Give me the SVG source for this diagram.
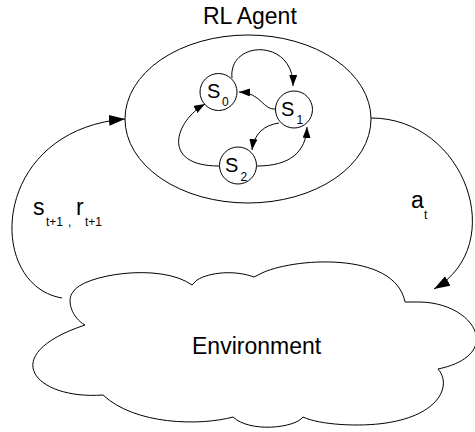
<svg xmlns="http://www.w3.org/2000/svg" width="475" height="432" viewBox="0 0 475 432">
  <style>
    .line { fill: none; stroke: #000; stroke-width: 1; }
    .shape { fill: #fff; stroke: #000; stroke-width: 1; }
    .lbl { font-family: "Liberation Sans", Arial, sans-serif; fill: #000; }
    .big { font-size: 23px; }
    .st { font-size: 20px; }
    .sub { font-size: 12px; }
    .sub2 { font-size: 12px; }
  </style>
  <defs>
    <marker id="tipSmall" viewBox="0 0 11 8" markerWidth="11" markerHeight="8" refX="11" refY="4" orient="auto" markerUnits="userSpaceOnUse">
      <path d="M0,0 L11,4 L0,8 z" fill="#000"/>
    </marker>
    <marker id="tipLarge" viewBox="0 0 16 11" markerWidth="16" markerHeight="11" refX="16" refY="5.5" orient="auto" markerUnits="userSpaceOnUse">
      <path d="M0,0 L16,5.5 L0,11 z" fill="#000"/>
    </marker>
  </defs>

  <rect width="475" height="432" fill="#fff"/>

  <!-- agent -->
  <g id="agent">
    <ellipse class="shape" cx="248" cy="119" rx="123" ry="84"/>
    <text class="lbl big" x="203" y="24">RL Agent</text>
  </g>

  <!-- environment cloud -->
  <g id="environment">
    <path class="shape" d="M73,292 C82,275 160,262 192,285 L197,280 C210,272 235,270 254,277 L260,274 C290,258 395,250 405,302 L420,302 C475,303 505,355 438,369 C452,385 440,415 386,423 C360,427 320,425 303,417 C295,428 250,433 233,417 C200,426 135,425 103,395 C35,400 -5,355 85,325 C72,318 66,300 73,292 Z"/>
    <text class="lbl big" x="192" y="354">Environment</text>
  </g>

  <!-- states -->
  <g id="s0">
    <circle class="shape" cx="218.5" cy="92" r="18.5"/>
    <text class="lbl st" x="207" y="98">S</text>
    <text class="lbl sub" x="222" y="106">0</text>
  </g>
  <g id="s1">
    <circle class="shape" cx="294" cy="109.5" r="18.5"/>
    <text class="lbl st" x="281" y="115.5">S</text>
    <text class="lbl sub" x="296.5" y="123.5">1</text>
  </g>
  <g id="s2">
    <circle class="shape" cx="238" cy="165.5" r="18.5"/>
    <text class="lbl st" x="225" y="172">S</text>
    <text class="lbl sub" x="240.5" y="180.5">2</text>
  </g>

  <!-- transitions and loop -->
  <g id="connectors">
    <path class="line" d="M232,78 C228,40 294,38 293,86" marker-end="url(#tipSmall)"/>
    <path class="line" d="M276,109 C262,110 262,93 239,92" marker-end="url(#tipSmall)"/>
    <path class="line" d="M279,123 C264,125 254,134 252,150" marker-end="url(#tipSmall)"/>
    <path class="line" d="M257,166 C290,166 306,152 307,127" marker-end="url(#tipSmall)"/>
    <path class="line" d="M219,166 C160,166 175,121 205,104" marker-end="url(#tipSmall)"/>
    <path class="line" d="M62,298 C-15,285 -10,130 125,119" marker-end="url(#tipLarge)"/>
    <path class="line" d="M371,118 C465,118 510,245 434,289" marker-end="url(#tipLarge)"/>
  </g>

  <!-- connector labels -->
  <g id="labels">
    <text class="lbl big" x="33" y="215">s</text>
    <text class="lbl sub2" x="46" y="226">t+1</text>
    <text class="lbl sub2" x="68" y="226">,</text>
    <text class="lbl big" x="76" y="215">r</text>
    <text class="lbl sub2" x="85" y="226">t+1</text>
    <text class="lbl big" x="411" y="208">a</text>
    <text class="lbl sub2" x="424" y="219">t</text>
  </g>
</svg>
